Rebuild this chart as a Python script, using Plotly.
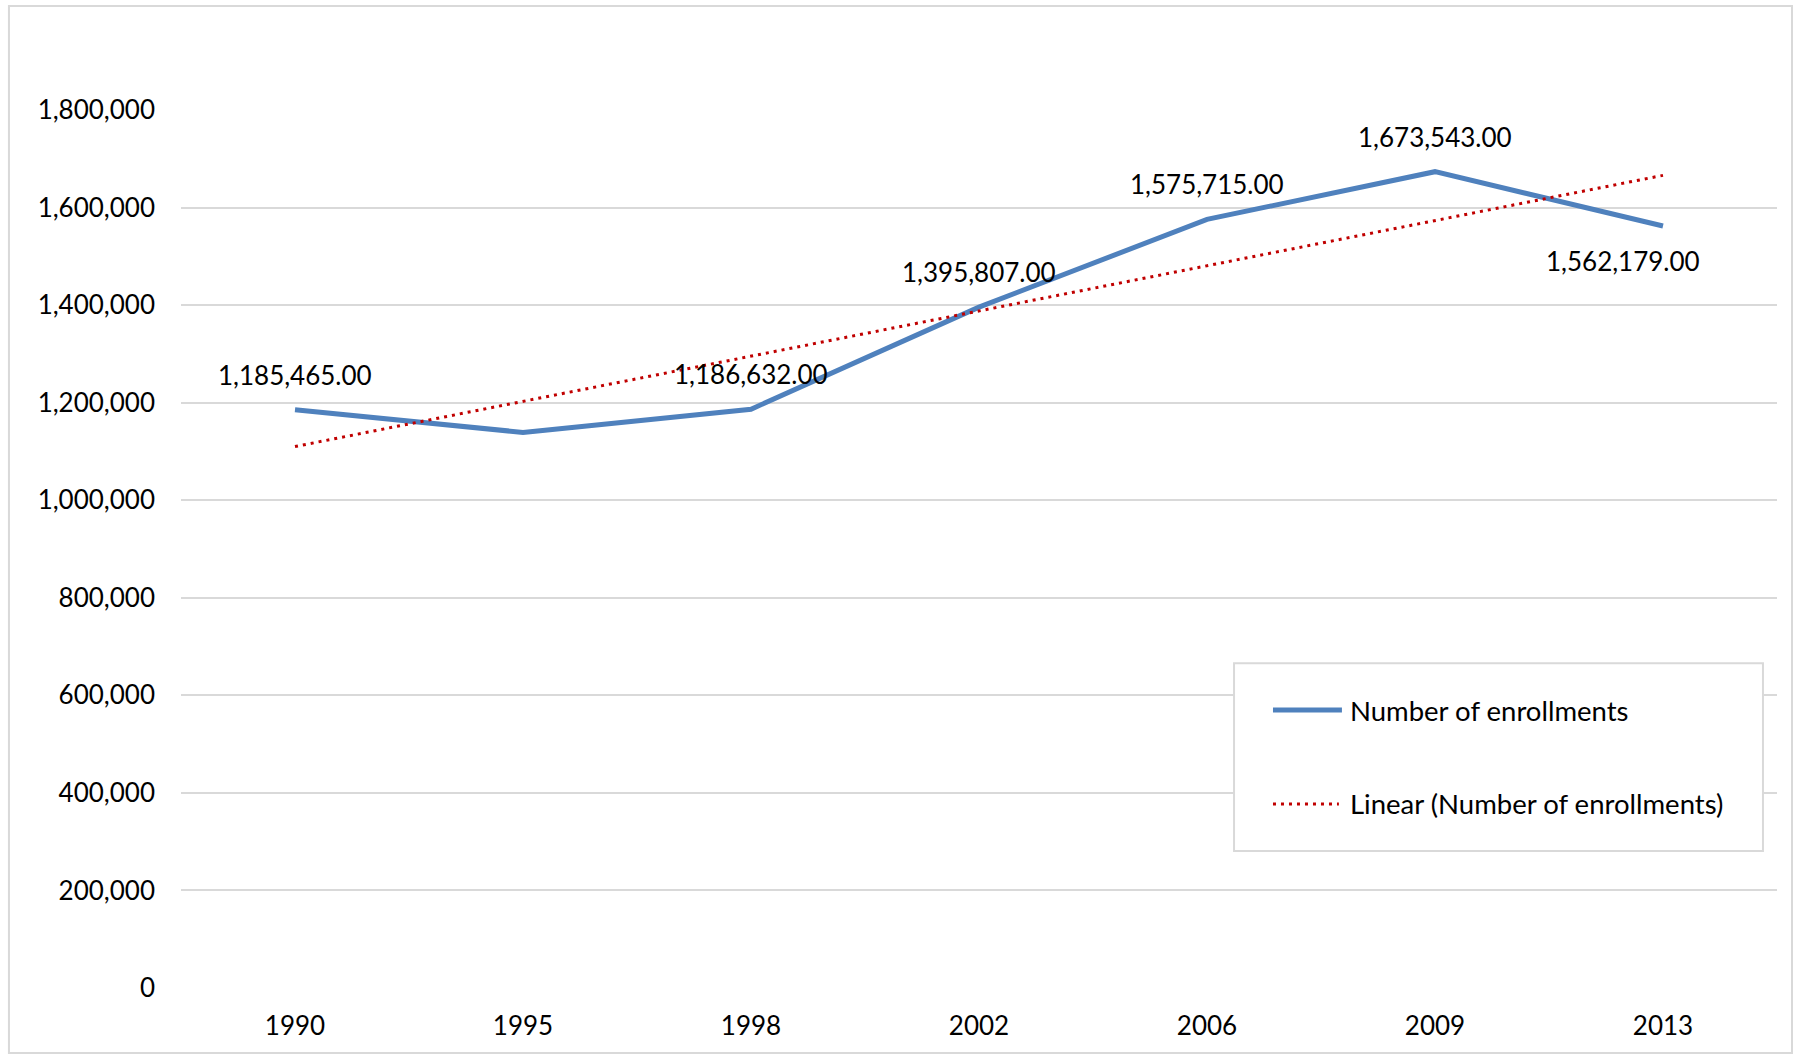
import plotly.graph_objects as go

# ---- data ----
years = ["1990", "1995", "1998", "2002", "2006", "2009", "2013"]
enrollments = [1185465, 1139000, 1186632, 1395807, 1575715, 1673543, 1562179]
label_flags = [True, False, True, True, True, True, True]
label_below = [False, False, False, False, False, False, True]
trend_years = ["1990", "2013"]
trend_values = [1110000, 1666000]
y_ticks = [0, 200000, 400000, 600000, 800000, 1000000, 1200000, 1400000, 1600000, 1800000]
series_names = ["Number of enrollments", "Linear (Number of enrollments)"]

FONT = "Lato"
TXT = "#000000"
GRID = "#D9D9D9"
BLUE = "#4F81BD"
RED = "#C00000"
DOT = "3px,5px"
NUM_SIZE = 26
LEG_SIZE = 27.5

fig = go.Figure()
fig.add_trace(go.Scatter(
    x=years, y=enrollments, mode="lines", name=series_names[0],
    line=dict(color=BLUE, width=5), showlegend=False,
))
fig.add_trace(go.Scatter(
    x=trend_years, y=trend_values, mode="lines", name=series_names[1],
    line=dict(color=RED, width=3, dash=DOT), showlegend=False,
))

for i, (yr, v, show, below) in enumerate(zip(years, enrollments, label_flags, label_below)):
    if not show:
        continue
    fig.add_annotation(
        x=i, y=v, xref="x", yref="y", text=f"{v:,.2f}", showarrow=False,
        yshift=-35 if below else 35, xshift=-40 if below else 0,
        font=dict(family=FONT, size=NUM_SIZE, color=TXT),
    )

# legend (drawn as a box with sample lines and texts)
leg_rows_y = [0.3166, 0.2096]
shapes = [
    dict(type="rect", xref="paper", yref="paper",
         x0=-0.1078, x1=1.0094, y0=-0.074, y1=1.1185,
         line=dict(color=GRID, width=2), fillcolor="rgba(0,0,0,0)", layer="below"),
    dict(type="rect", xref="paper", yref="paper",
         x0=0.6598, x1=0.9912, y0=0.156, y1=0.370,
         line=dict(color=GRID, width=2), fillcolor="white", layer="above"),
    dict(type="line", xref="paper", yref="paper",
         x0=0.6842, x1=0.7274, y0=leg_rows_y[0], y1=leg_rows_y[0],
         line=dict(color=BLUE, width=5)),
    dict(type="line", xref="paper", yref="paper",
         x0=0.6842, x1=0.7255, y0=leg_rows_y[1], y1=leg_rows_y[1],
         line=dict(color=RED, width=3, dash=DOT)),
]
for name, ly in zip(series_names, leg_rows_y):
    fig.add_annotation(
        xref="paper", yref="paper", x=0.7315, y=ly, xanchor="left", yanchor="middle",
        text=name, showarrow=False, font=dict(family=FONT, size=LEG_SIZE, color=TXT),
    )

fig.update_layout(
    width=1795, height=1057,
    margin=dict(l=181, r=18, t=110, b=69),
    paper_bgcolor="white", plot_bgcolor="white",
    font=dict(family=FONT, size=NUM_SIZE, color=TXT),
    showlegend=False,
    xaxis=dict(
        type="category", range=[-0.5, 6.5], showgrid=False, zeroline=False,
        showline=False, ticks="", tickfont=dict(family=FONT, size=NUM_SIZE, color=TXT),
        ticklabelstandoff=20, fixedrange=True,
    ),
    yaxis=dict(
        range=[0, 1800000], tickvals=y_ticks, tickformat=",", showgrid=True,
        gridcolor=GRID, gridwidth=1.5, zeroline=False, showline=False, ticks="",
        tickfont=dict(family=FONT, size=NUM_SIZE, color=TXT), ticklabelstandoff=25,
        fixedrange=True,
    ),
    shapes=shapes,
)

fig.write_html(
    "out.html",
    config={"displayModeBar": False},
    post_script="document.body.style.margin='0px';document.body.style.overflow='hidden';",
)
